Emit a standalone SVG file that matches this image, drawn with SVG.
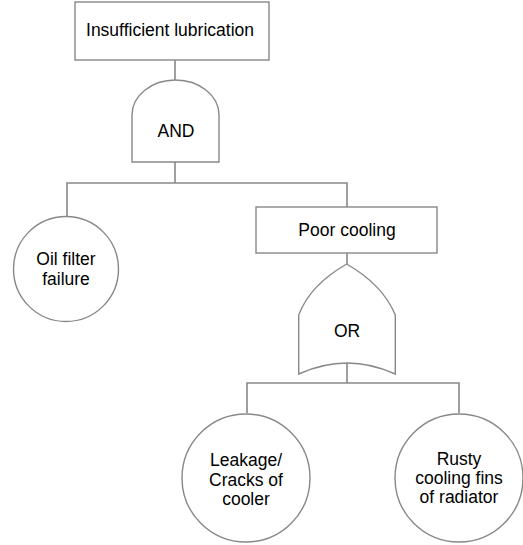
<svg xmlns="http://www.w3.org/2000/svg" width="523" height="545" viewBox="0 0 523 545">
<style>
.s{fill:#fff;stroke:#888;stroke-width:1.4}
.c{fill:none;stroke:#888;stroke-width:1.6}
text{font-family:"Liberation Sans",Arial,sans-serif;font-size:17.5px;fill:#000;text-anchor:middle}
</style>
<rect width="523" height="545" fill="#fff"/>
<g id="connectors">
<path class="c" d="M175,60 V80"/>
<path class="c" d="M175,162 V183 M67,216 V183 H347 V207"/>
<path class="c" d="M347,253 V264"/>
<path class="c" d="M347,363 V383 M247,413 V383 H459 V413"/>
</g>
<g id="top">
<rect class="s" x="75" y="2" width="194" height="58"/>
<text x="170" y="36">Insufficient lubrication</text>
</g>
<g id="and">
<path class="s" d="M132,162 L132,115 A43.5,35 0 0 1 219,115 L219,162 Z"/>
<text x="176" y="137">AND</text>
</g>
<g id="oil">
<circle class="s" cx="66" cy="269" r="52.5"/>
<text x="66" y="265">Oil filter</text>
<text x="66" y="285">failure</text>
</g>
<g id="poor">
<rect class="s" x="256" y="207" width="181" height="46"/>
<text x="347" y="236">Poor cooling</text>
</g>
<g id="or">
<path class="s" d="M298.7,374 L298.7,315 Q310,285 346.7,264 Q383,285 395.3,315 L395.3,374 Q347,352 298.7,374 Z"/>
<text x="347" y="337">OR</text>
</g>
<g id="leak">
<circle class="s" cx="246" cy="478" r="64"/>
<text x="246" y="466">Leakage/</text>
<text x="246" y="486">Cracks of</text>
<text x="246" y="505">cooler</text>
</g>
<g id="rusty">
<circle class="s" cx="459" cy="478" r="64"/>
<text x="459" y="465">Rusty</text>
<text x="459" y="484">cooling fins</text>
<text x="459" y="503">of radiator</text>
</g>
</svg>
